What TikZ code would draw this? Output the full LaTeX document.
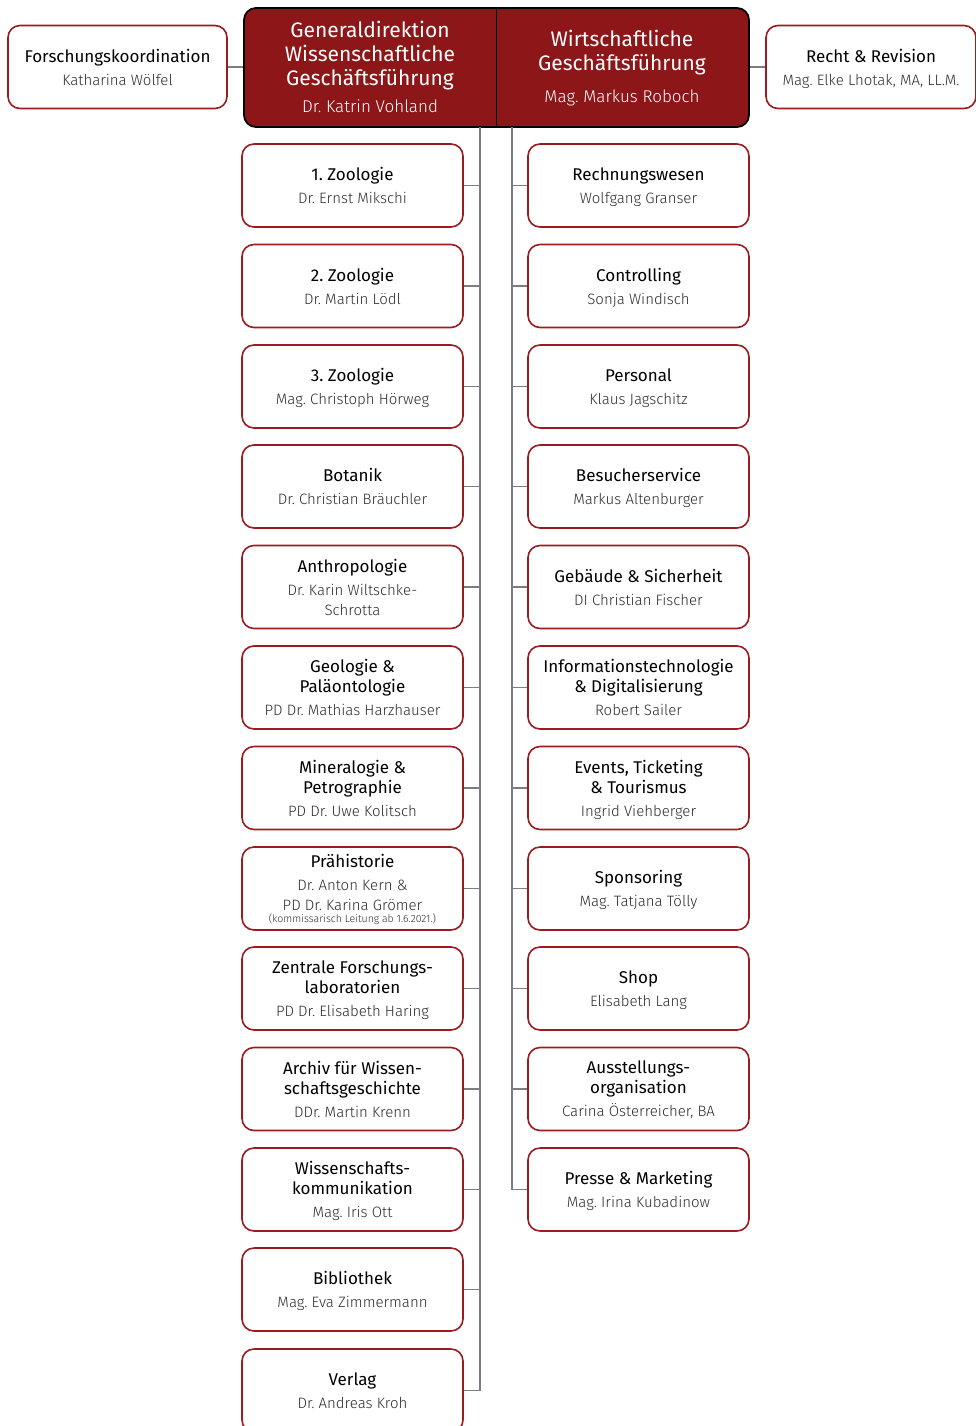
\documentclass[tikz,border=0pt]{standalone}
\usepackage{fontspec}
\setmainfont{Fira Sans}
\newfontfamily\namefont{Fira Sans Light}
\usetikzlibrary{positioning}
\frenchspacing

\definecolor{boxred}{RGB}{155,27,30}
\definecolor{chiefred}{RGB}{140,22,24}
\definecolor{linkgray}{RGB}{125,125,125}
\definecolor{namegray}{RGB}{45,45,45}

\newcommand{\who}[1]{{\namefont\fontsize{15}{20}\selectfont\color{namegray}\smash{#1}}}
\newcommand{\boss}[1]{{\namefont\fontsize{17}{24}\selectfont#1}}

\tikzset{
  unit/.style={draw=boxred, line width=1.6pt, fill=white, rounded corners=12pt,
    minimum width=221pt, minimum height=83pt, inner sep=0pt, align=center,
    font=\fontsize{17}{20}\selectfont},
  chief/.style={draw=black, line width=1.8pt, fill=chiefred, rounded corners=12pt,
    minimum width=505pt, minimum height=119pt, inner sep=0pt},
  chieftext/.style={text=white, align=center, inner sep=0pt,
    font=\fontsize{21}{24}\selectfont},
  link/.style={draw=linkgray, line width=1.3pt}
}

\begin{document}
\begin{tikzpicture}[x=1pt,y=-1pt]
  \useasboundingbox (0,0) rectangle (975,1426);

  % head
  \node[chief] (head) at (496.5,67.5) {};
  \draw[line width=1.6pt] (head.north) -- (head.south);
  \node[chieftext] (gd) at (370,67)
    {Generaldirektion\\Wissenschaftliche\\Geschäftsführung\\[3pt]\boss{Dr. Katrin Vohland}};
  \node[chieftext] (wg) at (622,68)
    {Wirtschaftliche\\Geschäftsführung\\[8pt]\boss{Mag. Markus Roboch}};

  \node[unit, minimum width=219pt] (fk) at (117.5,67)
    {Forschungskoordination\\[3pt]\who{Katharina Wölfel}};
  \node[unit, minimum width=210pt] (rr) at (871,67)
    {Recht \& Revision\\[3pt]\who{Mag. Elke Lhotak, MA, LL.M.}};

  % science units
  \node[unit] (l1) at (352.5,185.5) {1. Zoologie\\[3pt]\who{Dr. Ernst Mikschi}};
  \node[unit] (l2) at (352.5,286) {2. Zoologie\\[3pt]\who{Dr. Martin Lödl}};
  \node[unit] (l3) at (352.5,386.5) {3. Zoologie\\[3pt]\who{Mag. Christoph Hörweg}};
  \node[unit] (l4) at (352.5,486.5) {Botanik\\[3pt]\who{Dr. Christian Bräuchler}};
  \node[unit] (l5) at (352.5,587)
    {Anthropologie\\[3pt]\who{Dr. Karin Wiltschke-}\\\who{Schrotta}};
  \node[unit] (l6) at (352.5,687.5)
    {Geologie \&\\Paläontologie\\[3pt]\who{PD Dr. Mathias Harzhauser}};
  \node[unit] (l7) at (352.5,788)
    {Mineralogie \&\\Petrographie\\[3pt]\who{PD Dr. Uwe Kolitsch}};
  \node[unit] (l8) at (352.5,888.5)
    {Prähistorie\\[3pt]\who{Dr. Anton Kern \&}\\\who{PD Dr. Karina Grömer}\\[-8pt]
     {\namefont\fontsize{10.5}{11}\selectfont\color{namegray}\smash{(kommissarisch Leitung ab 1.6.2021.)}}};
  \node[unit] (l9) at (352.5,988.5)
    {Zentrale Forschungs-\\laboratorien\\[3pt]\who{PD Dr. Elisabeth Haring}};
  \node[unit] (l10) at (352.5,1089)
    {Archiv für Wissen-\\schaftsgeschichte\\[3pt]\who{DDr. Martin Krenn}};
  \node[unit] (l11) at (352.5,1189.5)
    {Wissenschafts-\\kommunikation\\[3pt]\who{Mag. Iris Ott}};
  \node[unit] (l12) at (352.5,1289.5) {Bibliothek\\[3pt]\who{Mag. Eva Zimmermann}};
  \node[unit] (l13) at (352.5,1390.5) {Verlag\\[3pt]\who{Dr. Andreas Kroh}};

  % business units
  \node[unit] (r1) at (638.5,185.5) {Rechnungswesen\\[3pt]\who{Wolfgang Granser}};
  \node[unit] (r2) at (638.5,286) {Controlling\\[3pt]\who{Sonja Windisch}};
  \node[unit] (r3) at (638.5,386.5) {Personal\\[3pt]\who{Klaus Jagschitz}};
  \node[unit] (r4) at (638.5,486.5) {Besucherservice\\[3pt]\who{Markus Altenburger}};
  \node[unit] (r5) at (638.5,587) {Gebäude \& Sicherheit\\[3pt]\who{DI Christian Fischer}};
  \node[unit] (r6) at (638.5,687.5)
    {Informationstechnologie\\\& Digitalisierung\\[3pt]\who{Robert Sailer}};
  \node[unit] (r7) at (638.5,788)
    {Events, Ticketing\\\& Tourismus\\[3pt]\who{Ingrid Viehberger}};
  \node[unit] (r8) at (638.5,888.5) {Sponsoring\\[3pt]\who{Mag. Tatjana Tölly}};
  \node[unit] (r9) at (638.5,988.5) {Shop\\[3pt]\who{Elisabeth Lang}};
  \node[unit] (r10) at (638.5,1089)
    {Ausstellungs-\\organisation\\[3pt]\who{Carina Österreicher, BA}};
  \node[unit] (r11) at (638.5,1189.5) {Presse \& Marketing\\[3pt]\who{Mag. Irina Kubadinow}};

  % connectors
  \coordinate (lstem) at (480,127);
  \coordinate (rstem) at (512,127);
  \begin{scope}[link]
    \draw (fk.east) -- (fk.east -| head.west);
    \draw (rr.west) -- (rr.west -| head.east);
    \draw (lstem) |- (l13.east);
    \draw (rstem) |- (r11.west);
    \draw (l1.east) -- (l1.east -| lstem);
    \draw (l2.east) -- (l2.east -| lstem);
    \draw (l3.east) -- (l3.east -| lstem);
    \draw (l4.east) -- (l4.east -| lstem);
    \draw (l5.east) -- (l5.east -| lstem);
    \draw (l6.east) -- (l6.east -| lstem);
    \draw (l7.east) -- (l7.east -| lstem);
    \draw (l8.east) -- (l8.east -| lstem);
    \draw (l9.east) -- (l9.east -| lstem);
    \draw (l10.east) -- (l10.east -| lstem);
    \draw (l11.east) -- (l11.east -| lstem);
    \draw (l12.east) -- (l12.east -| lstem);
    \draw (r1.west) -- (r1.west -| rstem);
    \draw (r2.west) -- (r2.west -| rstem);
    \draw (r3.west) -- (r3.west -| rstem);
    \draw (r4.west) -- (r4.west -| rstem);
    \draw (r5.west) -- (r5.west -| rstem);
    \draw (r6.west) -- (r6.west -| rstem);
    \draw (r7.west) -- (r7.west -| rstem);
    \draw (r8.west) -- (r8.west -| rstem);
    \draw (r9.west) -- (r9.west -| rstem);
    \draw (r10.west) -- (r10.west -| rstem);
  \end{scope}
\end{tikzpicture}
\end{document}
